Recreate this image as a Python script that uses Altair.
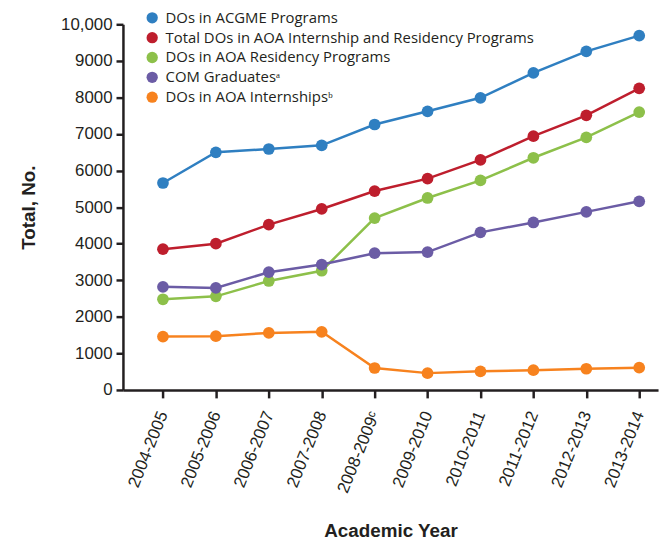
import altair as alt
import pandas as pd

years = ["2004-2005", "2005-2006", "2006-2007", "2007-2008", "2008-2009ᶜ",
         "2009-2010", "2010-2011", "2011-2012", "2012-2013", "2013-2014"]

series_names = [
    "DOs in ACGME Programs",
    "Total DOs in AOA Internship and Residency Programs",
    "DOs in AOA Residency Programs",
    "COM Graduatesᵃ",
    "DOs in AOA Internshipsᵇ",
]
colors = ["#2f7fc1", "#be1e2d", "#8dc04a", "#6b5ca5", "#f7821e"]

acgme = [5660, 6500, 6590, 6690, 7260, 7620, 7990, 8670, 9260, 9690]
aoa_total = [3850, 4000, 4520, 4950, 5440, 5780, 6290, 6940, 7510, 8250]
aoa_res = [2480, 2560, 2980, 3260, 4700, 5250, 5730, 6350, 6910, 7600]
com_grad = [2820, 2790, 3220, 3430, 3740, 3770, 4310, 4580, 4870, 5160]
aoa_intern = [1460, 1470, 1560, 1590, 600, 460, 510, 540, 580, 610]

all_values = [acgme, aoa_total, aoa_res, com_grad, aoa_intern]

rows = []
for name, vals in zip(series_names, all_values):
    for i, (y, v) in enumerate(zip(years, vals)):
        rows.append({"series": name, "year": y, "value": v, "order": i})
df = pd.DataFrame(rows)

LABEL_FONT = "Liberation Sans"

base = alt.Chart(df).encode(
    x=alt.X(
        "year:N",
        sort=years,
        scale=alt.Scale(type="point", padding=0.556, align=0.68),
        axis=alt.Axis(
            title="Academic Year",
            labelAngle=-68,
            labelAlign="right",
            labelBaseline="middle",
            labelPadding=14,
            labelFontSize=17,
            labelFont=LABEL_FONT,
            labelColor="#231f20",
            titleFont=LABEL_FONT,
            titleFontSize=19,
            titleFontWeight="bold",
            titleColor="#231f20",
            titlePadding=27,
            domainColor="#231f20",
            domainWidth=2.5,
            tickColor="#231f20",
            tickWidth=2.5,
            tickSize=8,
        ),
    ),
    y=alt.Y(
        "value:Q",
        scale=alt.Scale(domain=[0, 10000], nice=False),
        axis=alt.Axis(
            title="Total, No.",
            values=[0, 1000, 2000, 3000, 4000, 5000, 6000, 7000, 8000, 9000, 10000],
            labelExpr="datum.value == 10000 ? '10,000' : format(datum.value, 'd')",
            labelFontSize=17,
            labelFont=LABEL_FONT,
            labelColor="#231f20",
            labelPadding=4,
            titleFont=LABEL_FONT,
            titleFontSize=19,
            titleFontWeight="bold",
            titleColor="#231f20",
            titlePadding=22,
            domainColor="#231f20",
            domainWidth=2.5,
            tickColor="#231f20",
            tickWidth=2.5,
            tickSize=7,
            grid=False,
        ),
    ),
    color=alt.Color(
        "series:N",
        sort=series_names,
        scale=alt.Scale(domain=series_names, range=colors),
        legend=alt.Legend(
            title=None,
            orient="none",
            legendX=22,
            legendY=-14,
            symbolType="circle",
            symbolSize=130,
            symbolOpacity=1,
            symbolStrokeWidth=0,
            labelFontSize=15,
            labelFont="Open Sans",
            labelColor="#231f20",
            labelLimit=600,
            rowPadding=4,
            labelOffset=6,
            padding=0,
        ),
    ),
    order="order:Q",
)

lines = base.mark_line(strokeWidth=2.5)
points = base.mark_circle(size=140, opacity=1)

chart = (
    alt.layer(lines, points)
    .properties(width=540, height=369, padding={"left": 12, "top": 0, "right": 5, "bottom": 0})
    .configure_view(stroke=None)
)

chart.save("out.html", embed_options={"renderer": "svg", "actions": False})
